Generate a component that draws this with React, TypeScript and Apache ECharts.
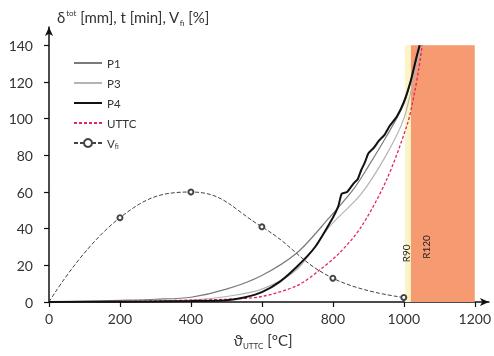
import React, { useEffect, useRef } from 'react';
import * as echarts from 'echarts';

// Temperature (°C) / value pairs
const p1Data: [number, number][] = [
  [0, 0], [100, 0.4], [200, 0.9], [300, 1.5], [400, 2.6], [500, 7], [600, 14.5],
  [700, 27], [790, 46], [860, 62], [900, 74], [950, 90], [1000, 108], [1030, 128], [1043, 140],
];
const p3Data: [number, number][] = [
  [0, 0], [200, 0.3], [400, 1], [500, 3], [600, 7], [700, 18], [790, 41],
  [880, 59], [950, 80], [1000, 100], [1035, 128], [1048, 140],
];
const p4Data: [number, number][] = [
  [0, 0], [200, 0.2], [400, 0.5], [500, 1], [550, 2.5], [600, 5.4], [650, 11],
  [700, 19.5], [750, 30], [800, 46], [815, 52], [825, 59], [840, 60], [860, 65],
  [870, 67], [880, 72], [890, 76], [900, 81], [915, 84], [930, 88], [945, 91],
  [960, 96], [980, 101], [1000, 109], [1020, 121], [1035, 133], [1045, 140],
];
const uttcData: [number, number][] = [
  [0, 0], [200, 0.3], [400, 1], [500, 1.5], [600, 3], [700, 9], [760, 17],
  [820, 27], [880, 41], [950, 66], [1010, 97], [1030, 114], [1042, 127], [1052, 140],
];
const vfData: [number, number][] = [
  [0, 0], [200, 46], [400, 60], [600, 41], [800, 13], [1000, 2.5],
];
const xTicks = [0, 200, 400, 600, 800, 1000, 1200];
const yTicks = [0, 20, 40, 60, 80, 100, 120, 140];
const r90Band = [1003, 1020];
const r120Band = [1020, 1200];
const bandTop = 140;

const FONT = 'Lato, "Open Sans", sans-serif';

export default function App() {
  const ref = useRef<HTMLDivElement>(null);
  useEffect(() => {
    const chart = echarts.init(ref.current!, null, { renderer: 'svg' });
    const axisCommon = {
      axisLine: {
        show: true,
        lineStyle: { color: '#111', width: 1.5 },
        symbol: ['none', 'arrow'],
        symbolSize: [6, 9],
      },
      axisTick: { show: true, length: 5, lineStyle: { color: '#111', width: 1.2 } },
      splitLine: { show: false },
    };
    const hidden = { color: 'rgba(0,0,0,0)', borderColor: 'rgba(0,0,0,0)', borderWidth: 0 };
    chart.setOption({
      animation: false,
      textStyle: { fontFamily: FONT },
      grid: { left: 49, right: 3, top: 27, bottom: 54 },
      xAxis: {
        type: 'value',
        min: 0,
        max: 1240,
        interval: 200,
        ...axisCommon,
        axisTick: { ...axisCommon.axisTick, customValues: xTicks },
        axisLabel: {
          customValues: xTicks, fontSize: 14, color: '#333', margin: 9, fontFamily: FONT,
          formatter: (v: number) => String(v),
        },
      },
      yAxis: {
        type: 'value',
        min: 0,
        max: 150,
        interval: 10,
        ...axisCommon,
        axisTick: { ...axisCommon.axisTick, customValues: yTicks },
        axisLabel: {
          customValues: yTicks, fontSize: 14, color: '#333', margin: 16, fontFamily: FONT,
          formatter: (v: number) => String(v),
        },
      },
      legend: {
        orient: 'vertical',
        left: 68,
        top: 52,
        itemWidth: 28,
        itemHeight: 10,
        itemGap: 8,
        textStyle: {
          fontSize: 11.5,
          color: '#333',
          fontFamily: FONT,
          rich: {
            m: { fontSize: 11.5, color: '#333', fontFamily: FONT },
            s: { fontSize: 7, color: '#333', fontFamily: FONT, verticalAlign: 'bottom', lineHeight: 8 },
          },
        },
        formatter: (n: string) => (n === 'Vfi' ? '{m|V}{s|fi}' : n),
        data: [
          { name: 'P1', itemStyle: hidden },
          { name: 'P3', itemStyle: hidden },
          { name: 'P4', itemStyle: hidden },
          { name: 'UTTC', itemStyle: hidden },
          { name: 'Vfi' },
        ],
      },
      series: [
        {
          name: 'P1', type: 'line', data: p1Data, smooth: 0.3, symbol: 'none',
          lineStyle: { color: '#7a7a7a', width: 1.2 }, itemStyle: { color: '#7a7a7a' }, z: 3,
          markArea: {
            silent: true,
            data: [
              [{ xAxis: r90Band[0], yAxis: 0, itemStyle: { color: '#fbf4c6' } }, { xAxis: r90Band[1], yAxis: bandTop }],
              [{ xAxis: r120Band[0], yAxis: 0, itemStyle: { color: '#f69a72' } }, { xAxis: r120Band[1], yAxis: bandTop }],
            ],
          },
        },
        {
          name: 'P3', type: 'line', data: p3Data, smooth: 0.3, symbol: 'none',
          lineStyle: { color: '#b4b4b4', width: 1.2 }, itemStyle: { color: '#b4b4b4' }, z: 3,
        },
        {
          name: 'P4', type: 'line', data: p4Data, smooth: 0.2, symbol: 'none',
          lineStyle: { color: '#111', width: 2 }, itemStyle: { color: '#111' }, z: 4,
        },
        {
          name: 'UTTC', type: 'line', data: uttcData, smooth: 0.3, symbol: 'none',
          lineStyle: { color: '#e4245c', width: 1.3, type: [3, 2] }, itemStyle: { color: '#e4245c' }, z: 3,
        },
        {
          name: 'Vfi', type: 'line',
          data: vfData.map((d, i) => (i === 0 ? { value: d, symbol: 'none' } : { value: d })),
          smooth: 0.45, symbol: 'emptyCircle', symbolSize: 5,
          lineStyle: { color: '#444', width: 1, type: [4, 2] }, itemStyle: { color: '#444', borderWidth: 1 }, z: 3,
        },
      ],
    });
    const p90 = chart.convertToPixel({ gridIndex: 0 }, [1006, 26.5]) as number[];
    const p120 = chart.convertToPixel({ gridIndex: 0 }, [1062, 30]) as number[];
    chart.setOption({
      graphic: [
        {
          type: 'text', x: 57, y: 7,
          style: {
            text: '{m|δ}{p|tot}{m| [mm], t [min], V}{b|fi}{m| [%]}',
            rich: {
              m: { fontSize: 15, fontFamily: FONT, fill: '#333', lineHeight: 20 },
              p: { fontSize: 8, fontFamily: FONT, fill: '#333', lineHeight: 20, verticalAlign: 'top', padding: [2, 0, 0, 1] },
              b: { fontSize: 8, fontFamily: FONT, fill: '#333', lineHeight: 10, verticalAlign: 'bottom' },
            },
          },
        },
        {
          type: 'text', x: 263, y: 340,
          style: {
            text: '{m|ϑ}{b|UTTC}{m| [°C]}',
            align: 'center', verticalAlign: 'middle',
            rich: {
              m: { fontSize: 15, fontFamily: FONT, fill: '#333', lineHeight: 20 },
              b: { fontSize: 8, fontFamily: FONT, fill: '#333', lineHeight: 9, verticalAlign: 'bottom' },
            },
          },
        },
        {
          type: 'text', x: p90[0], y: p90[1], rotation: Math.PI / 2,
          style: { text: 'R90', fontSize: 10, fontFamily: FONT, fill: '#222', align: 'center', verticalAlign: 'middle' },
          z: 10,
        },
        {
          type: 'text', x: p120[0], y: p120[1], rotation: Math.PI / 2,
          style: { text: 'R120', fontSize: 10, fontFamily: FONT, fill: '#222', align: 'center', verticalAlign: 'middle' },
          z: 10,
        },
      ],
    });
    return () => chart.dispose();
  }, []);
  return <div ref={ref} style={{ position: 'fixed', left: 0, top: 0, width: 494, height: 356 }} />;
}
